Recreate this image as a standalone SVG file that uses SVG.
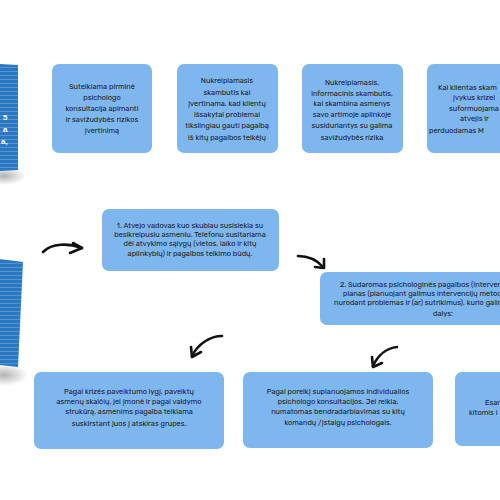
<svg xmlns="http://www.w3.org/2000/svg" width="500" height="500" viewBox="0 0 500 500">
<style>
.box{fill:#7db7ee}
.t{font-family:Rubik,"Open Sans",Inter,"Liberation Sans",sans-serif;font-size:7.4px;fill:#1d2029;text-anchor:middle}
.ts{text-anchor:start}
.arr{fill:none;stroke:#111;stroke-width:2.6;stroke-linecap:round;stroke-linejoin:round}
.pw{font-family:"Liberation Sans",sans-serif;font-size:8px;fill:#fff;font-weight:bold}
</style>
<defs>
<pattern id="stripes" width="10" height="4" patternUnits="userSpaceOnUse">
<rect width="10" height="4" fill="#2a78c2"/>
<rect y="3.2" width="10" height="0.6" fill="#6fa7dc"/>
</pattern>
<radialGradient id="sh" cx="0.5" cy="0.5" r="0.5">
<stop offset="0" stop-color="#000" stop-opacity="0.3"/>
<stop offset="1" stop-color="#000" stop-opacity="0"/>
</radialGradient>
<clipPath id="page"><rect width="500" height="500"/></clipPath>
</defs>
<rect width="500" height="500" fill="#fff"/>

<g id="panel1">
<ellipse cx="4" cy="176" rx="22" ry="9" fill="url(#sh)"/>
<polygon points="0,64 18,65 18,170 0,171" fill="url(#stripes)"/>
<text class="pw" x="3" y="120">5</text>
<text class="pw" x="3" y="132">a</text>
<text class="pw" x="1" y="144">a,</text>
</g>
<g id="panel2">
<ellipse cx="4" cy="375" rx="24" ry="11" fill="url(#sh)"/>
<polygon points="0,259 23,262 18,367 0,365" fill="url(#stripes)"/>
</g>

<g id="n1">
<rect class="box" x="52" y="64" width="100" height="89" rx="7"/>
<text class="t" x="102" y="89">Suteikiama pirminė</text>
<text class="t" x="102" y="100">psichologo</text>
<text class="t" x="102" y="111">konsultacija  apimanti</text>
<text class="t" x="102" y="122">ir savižudybės rizikos</text>
<text class="t" x="102" y="133">įvertinimą</text>
</g>
<g id="n2">
<rect class="box" x="177" y="64" width="101" height="89" rx="7"/>
<text class="t" x="227" y="83">Nukreipiamasis</text>
<text class="t" x="227" y="95">skambutis kai</text>
<text class="t" x="227" y="106">įvertinama, kad klientų</text>
<text class="t" x="227" y="117">išsakytai problemai</text>
<text class="t" x="227" y="128">tikslingiau gauti pagalbą</text>
<text class="t" x="227" y="140">iš kitų pagalbos teikėjų</text>
</g>
<g id="n3">
<rect class="box" x="302" y="64" width="101" height="89" rx="7"/>
<text class="t" x="352" y="85">Nukreipiamasis,</text>
<text class="t" x="352" y="96">informacinis skambutis,</text>
<text class="t" x="352" y="106">kai  skambina asmenys</text>
<text class="t" x="352" y="117">savo artimoje aplinkoje</text>
<text class="t" x="352" y="128">susiduriantys su galima</text>
<text class="t" x="352" y="140">savižudybės rizika</text>
</g>
<g id="n4" clip-path="url(#page)">
<rect class="box" x="427" y="64" width="100" height="89" rx="7"/>
<text class="t ts" x="438" y="90">Kai klientas skam</text>
<text class="t ts" x="453" y="100">įvykus krizei</text>
<text class="t ts" x="449" y="111">suformuojama</text>
<text class="t ts" x="460" y="121">atvejis ir</text>
<text class="t ts" x="429" y="133">perduodamas M</text>
</g>

<g id="s1">
<rect class="box" x="102" y="209" width="177" height="62" rx="7"/>
<text class="t" x="190" y="228">1. Atvejo vadovas kuo skubiau susisiekia su</text>
<text class="t" x="190" y="237">besikreipusiu asmeniu. Telefonu susitariama</text>
<text class="t" x="190" y="246">dėl atvykimo sąlygų (vietos, laiko ir kitų</text>
<text class="t" x="190" y="256">aplinkybių) ir pagalbos teikimo būdų.</text>
</g>
<g id="s2" clip-path="url(#page)">
<rect class="box" x="320" y="272" width="250" height="53" rx="7"/>
<text class="t ts" x="340" y="287">2. Sudaromas psichologinės pagalbos (interven</text>
<text class="t ts" x="343" y="296">planas (planuojant galimus intervencijų metod</text>
<text class="t ts" x="334" y="305">nurodant problemas ir (ar) sutrikimus), kurio galim</text>
<text class="t" x="443" y="316">dalys:</text>
</g>
<g id="b1">
<rect class="box" x="34" y="372" width="190" height="77" rx="7"/>
<text class="t" x="129" y="394">Pagal krizės paveiktumo lygį, paveiktų</text>
<text class="t" x="129" y="404">asmenų skaičių, jei įmonė  ir pagal valdymo</text>
<text class="t" x="129" y="414">strukūrą, asmenims pagalba teikiama</text>
<text class="t" x="129" y="426">suskirstant juos į atskiras grupes.</text>
</g>
<g id="b2">
<rect class="box" x="243" y="372" width="190" height="76" rx="7"/>
<text class="t" x="338" y="394">Pagal poreikį suplanuojamos individualios</text>
<text class="t" x="338" y="404">psichologo konsultacijos. Jei reikia,</text>
<text class="t" x="338" y="414">numatomas bendradarbiavimas su kitų</text>
<text class="t" x="338" y="425">komandų /įstaigų psichologais.</text>
</g>
<g id="b3" clip-path="url(#page)">
<rect class="box" x="455" y="372" width="80" height="74" rx="7"/>
<text class="t ts" x="485" y="405">Esant i</text>
<text class="t ts" x="469" y="415">kitomis i</text>
</g>

<g id="connectors">
<path class="arr" d="M43,252 C52,243 68,243 82,248"/>
<path class="arr" d="M73,243 L82,248 L70,253"/>
<path class="arr" d="M298,256 C308,256 317,260 323,267"/>
<path class="arr" d="M324,259 L324,268 L315,267"/>
<path class="arr" d="M222,336 C210,336 198,344 192,356"/>
<path class="arr" d="M191,347 L192,357 L201,352"/>
<path class="arr" d="M397,347 C387,348 378,355 373,366"/>
<path class="arr" d="M372,357 L373,367 L382,363"/>
</g>
</svg>
